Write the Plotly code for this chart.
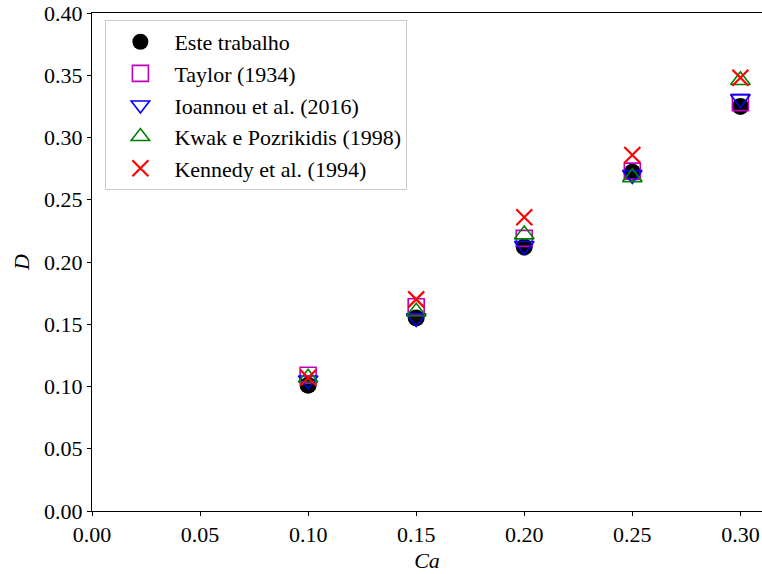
import plotly.graph_objects as go

# Capillary number values
ca = [0.10, 0.15, 0.20, 0.25, 0.30]

# Deformation parameter D for each data set
d_este = [0.101, 0.155, 0.212, 0.272, 0.325]
d_taylor = [0.109, 0.164, 0.219, 0.273, 0.328]
d_ioannou = [0.105, 0.155, 0.213, 0.270, 0.331]
d_kwak = [0.107, 0.160, 0.222, 0.268, 0.346]
d_kennedy = [0.107, 0.170, 0.236, 0.286, 0.348]

x_ticks = [0.00, 0.05, 0.10, 0.15, 0.20, 0.25, 0.30]
y_ticks = [0.00, 0.05, 0.10, 0.15, 0.20, 0.25, 0.30, 0.35, 0.40]

FONT = "Liberation Serif, Times New Roman, serif"

series = [
    ("Este trabalho", d_este, dict(symbol="circle", size=17, color="black",
                                   line=dict(width=0))),
    ("Taylor (1934)", d_taylor, dict(symbol="square-open", size=16, color="#bf00bf",
                                     line=dict(width=1.6, color="#bf00bf"))),
    ("Ioannou et al. (2016)", d_ioannou, dict(symbol="triangle-down-open", size=17,
                                             color="#0000ff",
                                             line=dict(width=1.6, color="#0000ff"))),
    ("Kwak e Pozrikidis (1998)", d_kwak, dict(symbol="triangle-up-open", size=17,
                                              color="#008000",
                                              line=dict(width=1.6, color="#008000"))),
    ("Kennedy et al. (1994)", d_kennedy, dict(symbol="x-thin-open", size=16,
                                             color="#ff0000",
                                             line=dict(width=2.2, color="#ff0000"))),
]

fig = go.Figure()
for name, vals, marker in series:
    fig.add_trace(go.Scatter(
        x=ca, y=vals, mode="markers", name=name, marker=marker,
        cliponaxis=False,
    ))

axis_common = dict(
    showgrid=False, zeroline=False, showline=True, mirror=True,
    linecolor="black", linewidth=1, ticks="outside", ticklen=4,
    tickwidth=1, tickcolor="black",
    tickfont=dict(family=FONT, size=22, color="black"),
    tickformat=".2f",
)

fig.update_layout(
    width=762, height=574,
    margin=dict(l=92, r=0, t=13, b=63),
    paper_bgcolor="white", plot_bgcolor="white",
    font=dict(family=FONT, size=22, color="black"),
    xaxis=dict(range=[0, 0.31], tickvals=x_ticks,
               title=dict(text="<i>Ca</i>", font=dict(family=FONT, size=22),
                          standoff=6),
               **axis_common),
    yaxis=dict(range=[0, 0.40], tickvals=y_ticks,
               title=dict(text="<i>D</i>", font=dict(family=FONT, size=22),
                          standoff=8),
               **axis_common),
    showlegend=True,
    legend=dict(
        x=0.02, y=0.986, xanchor="left", yanchor="top",
        bgcolor="rgba(255,255,255,0.8)", bordercolor="#cccccc", borderwidth=1,
        font=dict(family=FONT, size=22, color="black"),
        itemsizing="trace", itemwidth=58,
    ),
)

fig.write_html("out.html")
